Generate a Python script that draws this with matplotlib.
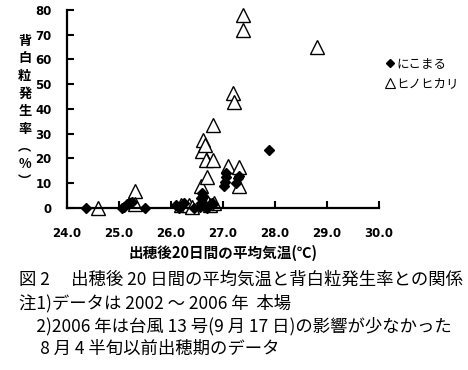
import matplotlib
matplotlib.use("Agg")
import matplotlib.pyplot as plt
from matplotlib.lines import Line2D

# にこまる (filled diamonds)
niko_x = [24.37, 25.05, 25.10, 25.15, 25.20, 25.25, 25.50, 26.10, 26.15, 26.25, 26.45,
          26.55, 26.57, 26.58, 26.60, 26.62, 26.65, 26.70, 26.78, 26.80,
          27.02, 27.04, 27.05, 27.06, 27.25, 27.28, 27.30, 27.88]
niko_y = [0, 0, 0.5, 1.5, 2, 2.5, 0, 1, 0, 2, 0,
          0.5, 2, 4, 6, 5, 1, 0, 2, 1.5,
          9, 10.5, 12.5, 14, 10, 12, 13, 23.5]

# ヒノヒカリ (open triangles)
hino_x = [24.60, 25.30, 25.30, 26.20, 26.35, 26.40, 26.58, 26.60, 26.62, 26.65, 26.68,
          26.70, 26.72, 26.75, 26.80, 26.80, 26.82, 27.10, 27.20, 27.22, 27.30, 27.30,
          27.38, 27.38, 28.80]
hino_y = [0, 7, 1.5, 1, 1, 0.5, 9, 23, 27.5, 25.5, 19.5,
          12.5, 2, 1, 19.5, 33.5, 2, 17, 46.5, 43, 16.5, 9,
          78, 72, 65]

x_ticks = [24.0, 25.0, 26.0, 27.0, 28.0, 29.0, 30.0]
y_ticks = [0, 10, 20, 30, 40, 50, 60, 70, 80]

ylabel_chars = ["背", "白", "粒", "発", "生", "率", "︵", "%", "︶"]
caption = [
    "図 2　 出穂後 20 日間の平均気温と背白粒発生率との関係",
    "注1)データは 2002 ～ 2006 年  本場",
    "　2)2006 年は台風 13 号(9 月 17 日)の影響が少なかった",
    "　 8 月 4 半旬以前出穂期のデータ",
]

jp = ["Noto Sans CJK JP", "DejaVu Sans"]

fig = plt.figure(figsize=(4.68, 3.70), dpi=100)
ax = fig.add_axes([0.143, 0.438, 0.667, 0.535])

ax.plot(niko_x, niko_y, linestyle="none", marker="D", markersize=5,
        color="black", clip_on=False, zorder=3)
ax.plot(hino_x, hino_y, linestyle="none", marker="^", markersize=10,
        markerfacecolor="white", markeredgecolor="black", markeredgewidth=1.0,
        clip_on=False, zorder=2)

ax.set_xlim(24, 30)
ax.set_ylim(0, 80)
ax.set_xticks(x_ticks)
ax.set_yticks(y_ticks)
ax.set_xticklabels([f"{v:.1f}" for v in x_ticks], fontfamily="DejaVu Sans",
                   fontweight="bold", fontsize=8.5)
ax.set_yticklabels([str(v) for v in y_ticks], fontfamily="DejaVu Sans",
                   fontweight="bold", fontsize=8.5)
ax.tick_params(axis="x", direction="in", length=5, width=1.5, pad=14)
ax.tick_params(axis="y", direction="in", length=5, width=1.5, pad=11)

for s in ["top", "right"]:
    ax.spines[s].set_visible(False)
for s in ["left", "bottom"]:
    ax.spines[s].set_linewidth(1.6)

ax.set_xlabel("出穂後20日間の平均気温(℃)", family=jp, fontweight="bold",
              fontsize=10.5, labelpad=3)

fig.text(0.053, 0.70, "\n".join(ylabel_chars), family=jp, fontweight="bold",
         fontsize=9.5, ha="center", va="center", linespacing=1.32)

# 凡例
handles = [
    Line2D([], [], linestyle="none", marker="D", markersize=4.5, color="black"),
    Line2D([], [], linestyle="none", marker="^", markersize=6.5,
           markerfacecolor="white", markeredgecolor="black", markeredgewidth=0.8),
]
ax.legend(handles, ["にこまる", "ヒノヒカリ"], loc="upper left",
          bbox_to_anchor=(0.822, 0.845), bbox_transform=fig.transFigure,
          frameon=False, prop={"family": jp, "size": 9}, handletextpad=0.1,
          handlelength=0.8, labelspacing=0.55, borderaxespad=0, borderpad=0)

for i, line in enumerate(caption):
    fig.text(0.04, 1 - (280 + 23 * i) / 370, line, family=jp, fontsize=12.5,
             ha="left", va="center")

fig.savefig("out.png", dpi=100)
